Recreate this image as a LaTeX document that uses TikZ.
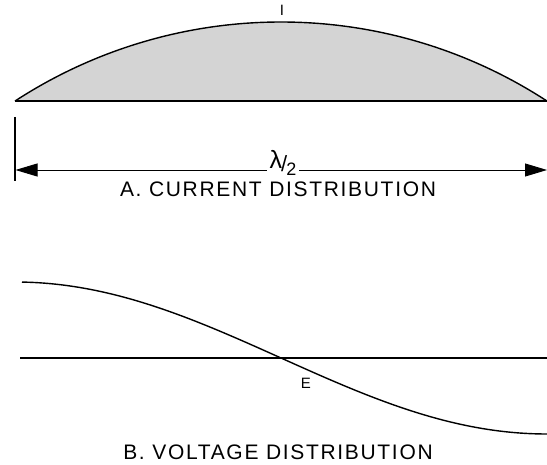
\documentclass[tikz,border=0pt]{standalone}
\usepackage{fontspec}
\setmainfont{Liberation Sans}
\newfontfamily\capfont[LetterSpace=8]{Liberation Sans}
\usetikzlibrary{arrows.meta}
\definecolor{arcgray}{RGB}{212,212,212}
\begin{document}
\begin{tikzpicture}[x=1pt,y=-1pt,
  caption/.style={font=\capfont\fontsize{21}{21}\selectfont, inner sep=0pt},
  small/.style={font=\fontsize{15}{15}\selectfont, inner sep=0pt},
  dimarrow/.style={line width=0.9pt, {Triangle[length=22pt,width=13pt]}-{Triangle[length=22pt,width=13pt]}},
  curve/.style={line width=1.4pt, line join=round},
  axis/.style={line width=2pt},
]
\useasboundingbox (0,0) rectangle (547,465);
% A. current distribution
\coordinate (aL) at (15,101);
\coordinate (aR) at (548,101);
\fill[arcgray] plot[domain=15:547, samples=150] (\x,{509-487*sqrt(1-((\x-281)/487)^2)}) -- cycle;
\draw[curve] plot[domain=15:547, samples=150] (\x,{509-487*sqrt(1-((\x-281)/487)^2)});
\draw[axis] (aL) -- (aR);
\node[small] (I) at (282,10) {I};
\coordinate (barT) at (15,117);
\coordinate (barB) at (15,181);
\draw[line width=1.8pt] (barT) -- (barB);
\coordinate (arrL) at (15.5,170);
\coordinate (arrR) at (547,170);
\draw[dimarrow] (arrL) -- (arrR);
\node[fill=white, inner xsep=3pt, inner ysep=0pt] (lam) at (283,163)
  {\fontsize{25}{25}\selectfont\raisebox{1pt}{λ}\kern-1pt\raisebox{-2pt}{\fontsize{22}{22}\selectfont/}\kern-1pt\raisebox{-6pt}{\fontsize{18}{18}\selectfont 2}};
\node[caption] (capA) at (278,189) {A. CURRENT DISTRIBUTION};
% B. voltage distribution
\coordinate (xL) at (20,358);
\coordinate (xR) at (548,358);
\draw[axis] (xL) -- (xR);
\draw[curve] plot[domain=22:547, samples=120] (\x,{358-76*cos((\x-15)/532*180)});
\node[small] (E) at (306,383) {E};
\node[caption] (capB) at (278,452) {B. VOLTAGE DISTRIBUTION};
\end{tikzpicture}
\end{document}
